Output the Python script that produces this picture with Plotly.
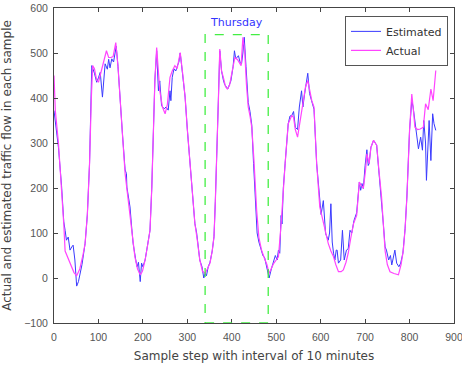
import plotly.graph_objects as go

# Actual traffic flow (sample step, value)
actual_x = [0,3,10,17,22,25,35,45,51,58,65,70,75,80,84,87,91,96,100,106,112,118,123,128,133,139,144,148,154,160,166,171,177,182,188,194,199,205,211,216,220,223,227,231,235,238,244,250,255,261,266,272,277,284,290,295,300,306,311,317,323,328,334,340,345,351,356,360,363,366,370,373,377,381,386,390,395,401,407,413,418,421,425,429,433,437,441,445,450,456,461,467,473,479,484,489,494,500,505,511,516,520,527,532,535,539,543,548,552,557,561,566,571,576,580,585,591,598,606,612,617,623,629,634,640,646,651,657,662,668,674,681,687,692,696,701,704,709,713,719,726,731,737,741,745,750,756,765,775,781,786,790,794,800,805,808,812,818,824,831,836,842,848,853,859]
actual_y = [450,372,300,205,120,60,35,12,5,20,50,77,140,255,400,472,465,440,435,460,480,505,490,490,492,523,470,402,320,232,180,136,85,47,20,7,15,40,75,106,200,328,440,512,460,416,380,365,385,446,460,472,465,501,450,402,330,254,185,121,80,40,15,10,20,33,60,92,170,254,400,509,460,446,425,420,428,460,490,485,478,472,535,505,430,380,360,335,260,150,90,62,45,30,10,20,32,40,47,120,200,254,343,355,361,357,330,313,340,365,390,425,439,415,394,380,254,158,121,95,77,60,47,30,14,14,18,35,55,90,121,139,213,205,199,240,276,254,290,306,295,240,180,120,60,30,14,10,7,30,62,110,180,328,409,380,335,330,331,335,387,374,420,394,461]

# Estimated traffic flow (sample step, value)
est_x = [0,5,10,17,22,25,28,32,36,40,43,47,49,51,55,58,63,70,75,80,85,91,96,100,104,109,115,120,123,126,130,134,138,140,144,148,154,160,163,164,171,175,178,184,187,190,194,197,200,205,211,216,220,223,227,231,235,238,242,248,252,257,261,263,266,270,274,277,281,284,290,295,300,306,311,317,321,325,328,333,337,340,343,347,351,356,360,363,366,370,373,377,381,384,391,398,403,406,409,415,419,422,425,428,432,437,441,445,449,454,457,461,466,470,474,477,480,484,489,494,498,502,505,508,511,513,516,520,527,531,535,539,543,548,552,557,560,564,567,571,575,580,585,591,595,598,601,606,611,617,620,623,626,629,632,635,637,640,645,649,653,658,662,666,670,675,681,687,690,693,696,700,704,707,709,713,719,726,731,737,741,745,748,753,757,760,764,767,771,776,780,785,790,794,800,805,808,812,816,820,825,829,832,836,838,841,844,848,852,855,859]
est_y = [372,330,290,205,125,106,84,91,62,69,73,40,-5,-18,-8,7,30,77,140,255,472,455,435,445,457,402,476,464,486,467,487,480,505,515,470,402,320,240,232,202,158,110,77,40,25,35,-8,33,25,40,75,106,200,328,440,505,416,438,383,376,380,373,416,394,446,465,460,470,480,500,450,402,330,254,185,121,100,65,40,25,0,10,5,25,35,60,92,170,254,400,505,460,440,430,420,438,470,505,487,494,478,476,500,535,470,390,370,340,254,150,100,80,65,50,45,30,22,0,20,35,50,40,62,55,139,120,200,254,343,360,361,370,335,330,380,416,380,410,430,455,410,394,375,254,200,165,141,172,99,84,100,165,80,55,40,62,62,33,40,106,40,62,65,106,100,128,145,213,195,210,199,250,285,250,254,290,306,295,240,180,120,69,62,40,50,29,45,62,33,25,33,55,110,180,328,394,380,346,320,287,313,284,350,300,217,300,350,261,365,343,328]

x_ticks = [0, 100, 200, 300, 400, 500, 600, 700, 800, 900]
y_ticks = [-100, 0, 100, 200, 300, 400, 500, 600]

fig = go.Figure()
fig.add_trace(go.Scatter(x=est_x, y=est_y, mode="lines", name="Estimated",
                         line=dict(color="#3a3aff", width=1)))
fig.add_trace(go.Scatter(x=actual_x, y=actual_y, mode="lines", name="Actual",
                         line=dict(color="#ff44ff", width=1.2)))

# Thursday highlight box
fig.add_shape(type="rect", x0=340, x1=482, y0=-100, y1=541,
              line=dict(color="#44ee44", width=1.3, dash="dash"))
fig.add_annotation(x=411, y=568, text="Thursday", showarrow=False,
                   font=dict(family="DejaVu Sans", size=11, color="#3333ff"))

axis_common = dict(showline=True, linecolor="#444", linewidth=1, mirror="ticks",
                   ticks="inside", ticklen=4, tickcolor="#444", showgrid=False,
                   zeroline=False, automargin=False, ticklabeloverflow="allow",
                   tickfont=dict(family="Liberation Sans", size=10.5, color="#555"))

fig.update_xaxes(range=[0, 900], tickvals=x_ticks, ticklabelstandoff=4,
                 title=dict(text="Sample step with interval of 10 minutes",
                            font=dict(family="DejaVu Sans", size=12, color="#444"),
                            standoff=10),
                 **axis_common)
fig.update_yaxes(range=[-100, 600], tickvals=y_ticks, ticklabelstandoff=3,
                 title=dict(text="Actual and estimated traffic flow in each sample",
                            font=dict(family="DejaVu Sans", size=12, color="#444"),
                            standoff=10),
                 **axis_common)

fig.update_layout(
    width=462, height=366,
    margin=dict(l=54, r=8, t=8, b=43, autoexpand=False),
    plot_bgcolor="white", paper_bgcolor="white",
    showlegend=True,
    legend=dict(x=0.985, y=0.975, xanchor="right", yanchor="top",
                bgcolor="white", bordercolor="#555", borderwidth=1,
                font=dict(family="DejaVu Sans", size=11, color="#333"),
                tracegroupgap=0, itemwidth=30),
)

fig.write_html("out.html", config={"displayModeBar": False},
               post_script="document.body.style.margin='0';")
